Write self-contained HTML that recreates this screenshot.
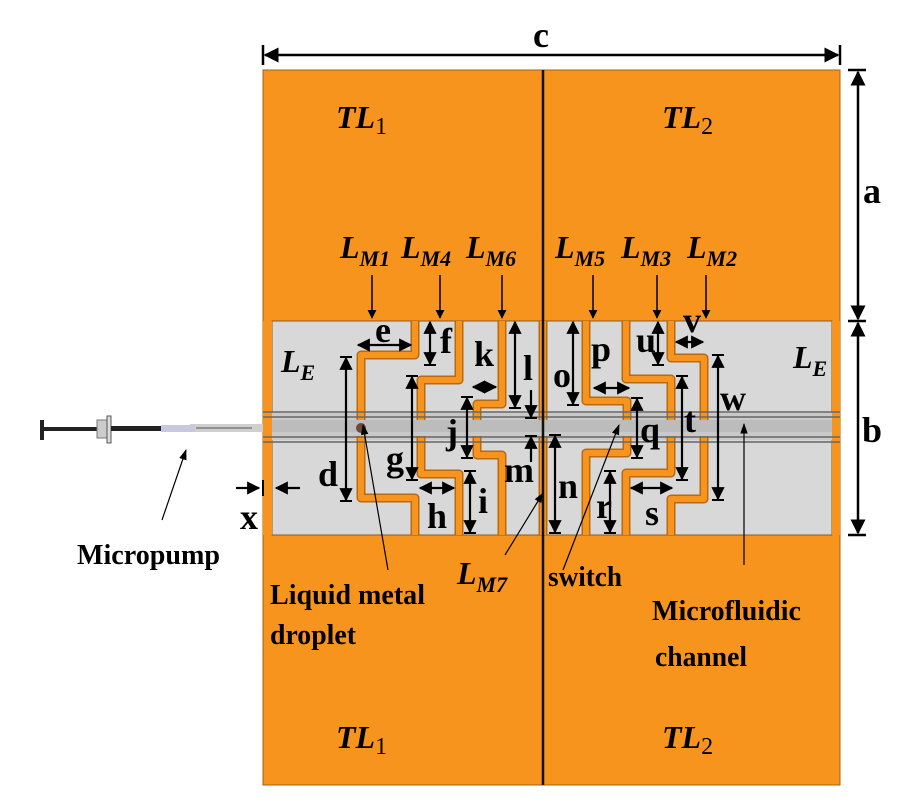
<!DOCTYPE html>
<html><head><meta charset="utf-8"><style>html,body{margin:0;padding:0;background:#fff}svg{display:block}</style></head>
<body>
<svg width="900" height="800" viewBox="0 0 900 800" xmlns="http://www.w3.org/2000/svg" font-family="Liberation Serif, serif" font-weight="bold">
<defs>
<marker id="ah" viewBox="0 0 10 10" refX="9" refY="5" markerWidth="6" markerHeight="6" orient="auto-start-reverse"><path d="M0,0 L10,5 L0,10 z" fill="#000"/></marker>
<marker id="as" viewBox="0 0 10 10" refX="9" refY="5" markerWidth="9" markerHeight="9" orient="auto-start-reverse"><path d="M0,1.5 L10,5 L0,8.5 z" fill="#000"/></marker>
</defs>
<rect x="263" y="70" width="577" height="715" fill="#F7941D"/>
<rect x="263" y="70" width="577" height="715" fill="none" stroke="#a86010" stroke-width="1"/>
<rect x="272" y="321" width="560" height="214" fill="#D8D8D8" stroke="#8a5a20" stroke-width="1"/>
<rect x="263" y="413" width="577" height="27" fill="#c9c9c9"/>
<rect x="263" y="420" width="577" height="12" fill="#bcbcbc"/>
<rect x="190" y="424" width="73" height="8" fill="#cfcfcf"/>
<line x1="196" y1="428" x2="252" y2="428" stroke="#555" stroke-width="1"/>
<rect x="40" y="420" width="4" height="20" fill="#222"/>
<rect x="44" y="427" width="56" height="4" fill="#222"/>
<rect x="97" y="420" width="10" height="18" fill="#ccc" stroke="#777"/>
<rect x="107" y="416" width="4" height="27" fill="#ddd" stroke="#555"/>
<rect x="111" y="426" width="50" height="5" fill="#222"/>
<rect x="161" y="425" width="34" height="7" fill="#c8c8e0"/>
<g fill="none" stroke-linejoin="round">
<g stroke="#b86a12" stroke-width="9">
<path d="M415,321 V355 H361 V420"/><path d="M361,436 V498 H415 V535"/>
<path d="M459,321 V380 H421 V420"/><path d="M421,436 V474 H459 V535"/>
<path d="M502,321 V404 H477 V420"/><path d="M477,436 V455 H502 V535"/>
<path d="M586,321 V401 H627 V420"/><path d="M627,436 V453 H586 V535"/>
<path d="M626,321 V379 H671 V420"/><path d="M671,436 V473 H626 V535"/>
<path d="M671,321 V358 H704 V420"/><path d="M704,436 V499 H671 V535"/>
<path d="M543,321 V420"/><path d="M543,436 V535"/>
</g>
<g stroke="#F7941D" stroke-width="6">
<path d="M415,321 V355 H361 V420"/><path d="M361,436 V498 H415 V535"/>
<path d="M459,321 V380 H421 V420"/><path d="M421,436 V474 H459 V535"/>
<path d="M502,321 V404 H477 V420"/><path d="M477,436 V455 H502 V535"/>
<path d="M586,321 V401 H627 V420"/><path d="M627,436 V453 H586 V535"/>
<path d="M626,321 V379 H671 V420"/><path d="M671,436 V473 H626 V535"/>
<path d="M671,321 V358 H704 V420"/><path d="M704,436 V499 H671 V535"/>
<path d="M543,321 V420"/><path d="M543,436 V535"/>
</g></g>
<rect x="263" y="321" width="9" height="214" fill="#F7941D"/>
<rect x="832" y="321" width="8" height="214" fill="#F7941D"/>
<g stroke="#666" stroke-width="1.5"><line x1="263" y1="412" x2="840" y2="412"/><line x1="263" y1="417" x2="840" y2="417"/><line x1="263" y1="437" x2="840" y2="437"/><line x1="263" y1="442" x2="840" y2="442"/></g>
<circle cx="361" cy="428" r="5" fill="#6b4a3a"/>
<line x1="543" y1="70" x2="543" y2="785" stroke="#111" stroke-width="2.5"/>
<g stroke="#000" stroke-width="2.5" fill="none">
<line x1="265" y1="55" x2="838" y2="55" marker-start="url(#ah)" marker-end="url(#ah)"/>
<line x1="263" y1="45" x2="263" y2="65"/><line x1="840" y1="45" x2="840" y2="65"/>
<line x1="858" y1="72" x2="858" y2="319" marker-start="url(#ah)" marker-end="url(#ah)"/>
<line x1="858" y1="323" x2="858" y2="533" marker-start="url(#ah)" marker-end="url(#ah)"/>
<line x1="848" y1="70" x2="866" y2="70"/><line x1="848" y1="321" x2="866" y2="321"/><line x1="848" y1="535" x2="866" y2="535"/>
</g>
<g stroke="#000" stroke-width="2.2" fill="none" marker-start="url(#ah)" marker-end="url(#ah)">
<line x1="358" y1="345" x2="411" y2="345"/>
<line x1="430" y1="322" x2="430" y2="364"/>
<line x1="346" y1="358" x2="346" y2="500"/>
<line x1="412" y1="377" x2="412" y2="479"/>
<line x1="420" y1="488" x2="454" y2="488"/>
<line x1="470" y1="472" x2="470" y2="532"/>
<line x1="467" y1="398" x2="467" y2="457"/>
<line x1="473" y1="387" x2="496" y2="387"/>
<line x1="515" y1="322" x2="515" y2="407"/>
<line x1="555" y1="436" x2="555" y2="532"/>
<line x1="573" y1="322" x2="573" y2="404"/>
<line x1="594" y1="388" x2="629" y2="388"/>
<line x1="637" y1="399" x2="637" y2="457"/>
<line x1="610" y1="472" x2="610" y2="532"/>
<line x1="631" y1="488" x2="672" y2="488"/>
<line x1="682" y1="377" x2="682" y2="479"/>
<line x1="658" y1="322" x2="658" y2="364"/>
<line x1="676" y1="342" x2="703" y2="342"/>
<line x1="718" y1="356" x2="718" y2="499"/>
</g>
<g stroke="#000" stroke-width="2">
<line x1="340" y1="357" x2="352" y2="357"/><line x1="340" y1="501" x2="352" y2="501"/>
<line x1="406" y1="376" x2="418" y2="376"/><line x1="406" y1="480" x2="418" y2="480"/>
<line x1="424" y1="365" x2="436" y2="365"/><line x1="464" y1="471" x2="476" y2="471"/><line x1="464" y1="533" x2="476" y2="533"/>
<line x1="461" y1="397" x2="473" y2="397"/><line x1="461" y1="458" x2="473" y2="458"/>
<line x1="509" y1="408" x2="521" y2="408"/>
<line x1="549" y1="435" x2="561" y2="435"/><line x1="549" y1="533" x2="561" y2="533"/>
<line x1="567" y1="405" x2="579" y2="405"/>
<line x1="631" y1="398" x2="643" y2="398"/><line x1="631" y1="458" x2="643" y2="458"/>
<line x1="604" y1="471" x2="616" y2="471"/><line x1="604" y1="533" x2="616" y2="533"/>
<line x1="676" y1="376" x2="688" y2="376"/><line x1="676" y1="480" x2="688" y2="480"/>
<line x1="652" y1="365" x2="664" y2="365"/>
<line x1="712" y1="355" x2="724" y2="355"/><line x1="712" y1="500" x2="724" y2="500"/>
<line x1="525" y1="418" x2="537" y2="418"/><line x1="525" y1="436" x2="537" y2="436"/>
</g>
<g stroke="#000" stroke-width="2.2" fill="none" marker-end="url(#ah)">
<line x1="531" y1="390" x2="531" y2="417"/>
<line x1="531" y1="462" x2="531" y2="437"/>
<line x1="236" y1="488" x2="259" y2="488"/>
<line x1="300" y1="488" x2="276" y2="488"/>
</g>
<g stroke="#000" stroke-width="1.5" fill="none" marker-end="url(#ah)">
<line x1="372" y1="275" x2="372" y2="318"/>
<line x1="440" y1="275" x2="440" y2="318"/>
<line x1="502" y1="275" x2="502" y2="318"/>
<line x1="593" y1="275" x2="593" y2="318"/>
<line x1="657" y1="275" x2="657" y2="318"/>
<line x1="706" y1="275" x2="706" y2="318"/>
</g>
<line x1="263" y1="480" x2="263" y2="496" stroke="#000" stroke-width="2"/>
<g stroke="#000" stroke-width="1.2" fill="none" marker-end="url(#as)">
<line x1="388" y1="570" x2="363" y2="425"/>
<line x1="505" y1="555" x2="543" y2="493"/>
<line x1="563" y1="570" x2="619" y2="425"/>
<line x1="744" y1="565" x2="744" y2="424"/>
<line x1="162" y1="520" x2="186" y2="450"/>
</g>
<g font-size="36" text-anchor="middle" fill="#000">
<text x="541" y="47" font-size="36">c</text>
<text x="872" y="203">a</text>
<text x="872" y="442">b</text>
<text x="383" y="342">e</text>
<text x="446" y="353">f</text>
<text x="328" y="486">d</text>
<text x="395" y="471">g</text>
<text x="437" y="528">h</text>
<text x="483" y="513">i</text>
<text x="452" y="444">j</text>
<text x="484" y="366">k</text>
<text x="528" y="380">l</text>
<text x="519" y="482">m</text>
<text x="249" y="529">x</text>
<text x="568" y="498">n</text>
<text x="562" y="387">o</text>
<text x="601" y="361">p</text>
<text x="650" y="442">q</text>
<text x="604" y="518">r</text>
<text x="652" y="525">s</text>
<text x="690" y="432">t</text>
<text x="646" y="352">u</text>
<text x="692" y="332">v</text>
<text x="733" y="410">w</text>
</g>
<g font-style="italic" fill="#000">
<text x="281" y="372" font-size="32">L<tspan font-size="22" dy="8">E</tspan></text>
<text x="793" y="368" font-size="32">L<tspan font-size="22" dy="8">E</tspan></text>
<text x="336" y="128" font-size="32">TL<tspan font-size="24" font-style="normal" font-weight="normal" dy="6">1</tspan></text>
<text x="662" y="128" font-size="32">TL<tspan font-size="24" font-style="normal" font-weight="normal" dy="6">2</tspan></text>
<text x="336" y="748" font-size="32">TL<tspan font-size="24" font-style="normal" font-weight="normal" dy="6">1</tspan></text>
<text x="662" y="748" font-size="32">TL<tspan font-size="24" font-style="normal" font-weight="normal" dy="6">2</tspan></text>
<g font-size="32">
<text x="340" y="258">L<tspan font-size="22" dy="8">M1</tspan></text>
<text x="401" y="258">L<tspan font-size="22" dy="8">M4</tspan></text>
<text x="466" y="258">L<tspan font-size="22" dy="8">M6</tspan></text>
<text x="555" y="258">L<tspan font-size="22" dy="8">M5</tspan></text>
<text x="621" y="258">L<tspan font-size="22" dy="8">M3</tspan></text>
<text x="687" y="258">L<tspan font-size="22" dy="8">M2</tspan></text>
<text x="457" y="584">L<tspan font-size="22" dy="8">M7</tspan></text>
</g></g>
<g font-size="29" fill="#000">
<text x="77" y="564" textLength="143" lengthAdjust="spacingAndGlyphs">Micropump</text>
<text x="270" y="604" textLength="155" lengthAdjust="spacingAndGlyphs">Liquid metal</text>
<text x="270" y="644" textLength="86" lengthAdjust="spacingAndGlyphs">droplet</text>
<text x="548" y="586" textLength="74" lengthAdjust="spacingAndGlyphs">switch</text>
<text x="652" y="620" textLength="149" lengthAdjust="spacingAndGlyphs">Microfluidic</text>
<text x="655" y="666" textLength="92" lengthAdjust="spacingAndGlyphs">channel</text>
</g>
</svg>
</body></html>
